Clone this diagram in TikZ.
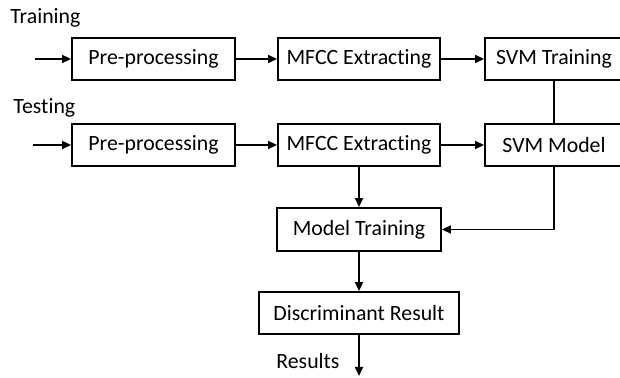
\documentclass[tikz,border=0pt]{standalone}
\usepackage{fontspec}
\setmainfont{Carlito}[Ligatures={NoCommon,NoRare,NoContextual}]
\usetikzlibrary{arrows.meta}
\begin{document}
\begin{tikzpicture}[x=0.5pt,y=-0.5pt,
 box/.style={draw, line width=0.95pt, minimum height=21pt, inner sep=0pt, font=\fontsize{10.9}{13}\selectfont},
 lbl/.style={inner sep=0pt, font=\fontsize{10.9}{13}\selectfont},
 arr/.style={line width=0.95pt, -{Triangle[length=4.5pt,width=4pt]}},
 ln/.style={line width=0.95pt}]
\useasboundingbox (0,0) rectangle (620,378);
% row 1
\node[box, minimum width=81.5pt] (pre1) at (153.5,59) {Pre-processing};
\node[box, minimum width=81pt] (mfcc1) at (359,59) {MFCC Extracting};
\node[box, minimum width=69pt] (svmT) at (554,59) {SVM Training};
% row 2
\node[box, minimum width=81.5pt] (pre2) at (153.5,145) {Pre-processing};
\node[box, minimum width=81pt] (mfcc2) at (359,145) {MFCC Extracting};
\node[box, minimum width=69pt] (svmM) at (554,145) {SVM Model};
% lower
\node[box, minimum width=82pt, minimum height=21.5pt] (model) at (359,229.5) {Model Training};
\node[box, minimum width=100pt] (disc) at (359,313) {Discriminant Result};
% labels
\node[lbl, anchor=base west] (ltrain) at (10,24) {Training};
\node[lbl, anchor=base west] (ltest) at (13,114) {Testing};
\node[lbl, anchor=base west] (lres) at (276,369) {Results};
% coordinates
\coordinate (in1) at (35,59);
\coordinate (in2) at (33,145);
\coordinate (out) at (359,376);
% connectors
\draw[arr] (in1) -- (pre1);
\draw[arr] (pre1) -- (mfcc1);
\draw[arr] (mfcc1) -- (svmT);
\draw[ln] (svmT) -- (svmM);
\draw[arr] (in2) -- (pre2);
\draw[arr] (pre2) -- (mfcc2);
\draw[arr] (mfcc2) -- (svmM);
\draw[arr] (mfcc2) -- (model);
\draw[arr] (svmM.south) |- (model.east);
\draw[arr] (model) -- (disc);
\draw[arr] (disc) -- (out);
\end{tikzpicture}
\end{document}
